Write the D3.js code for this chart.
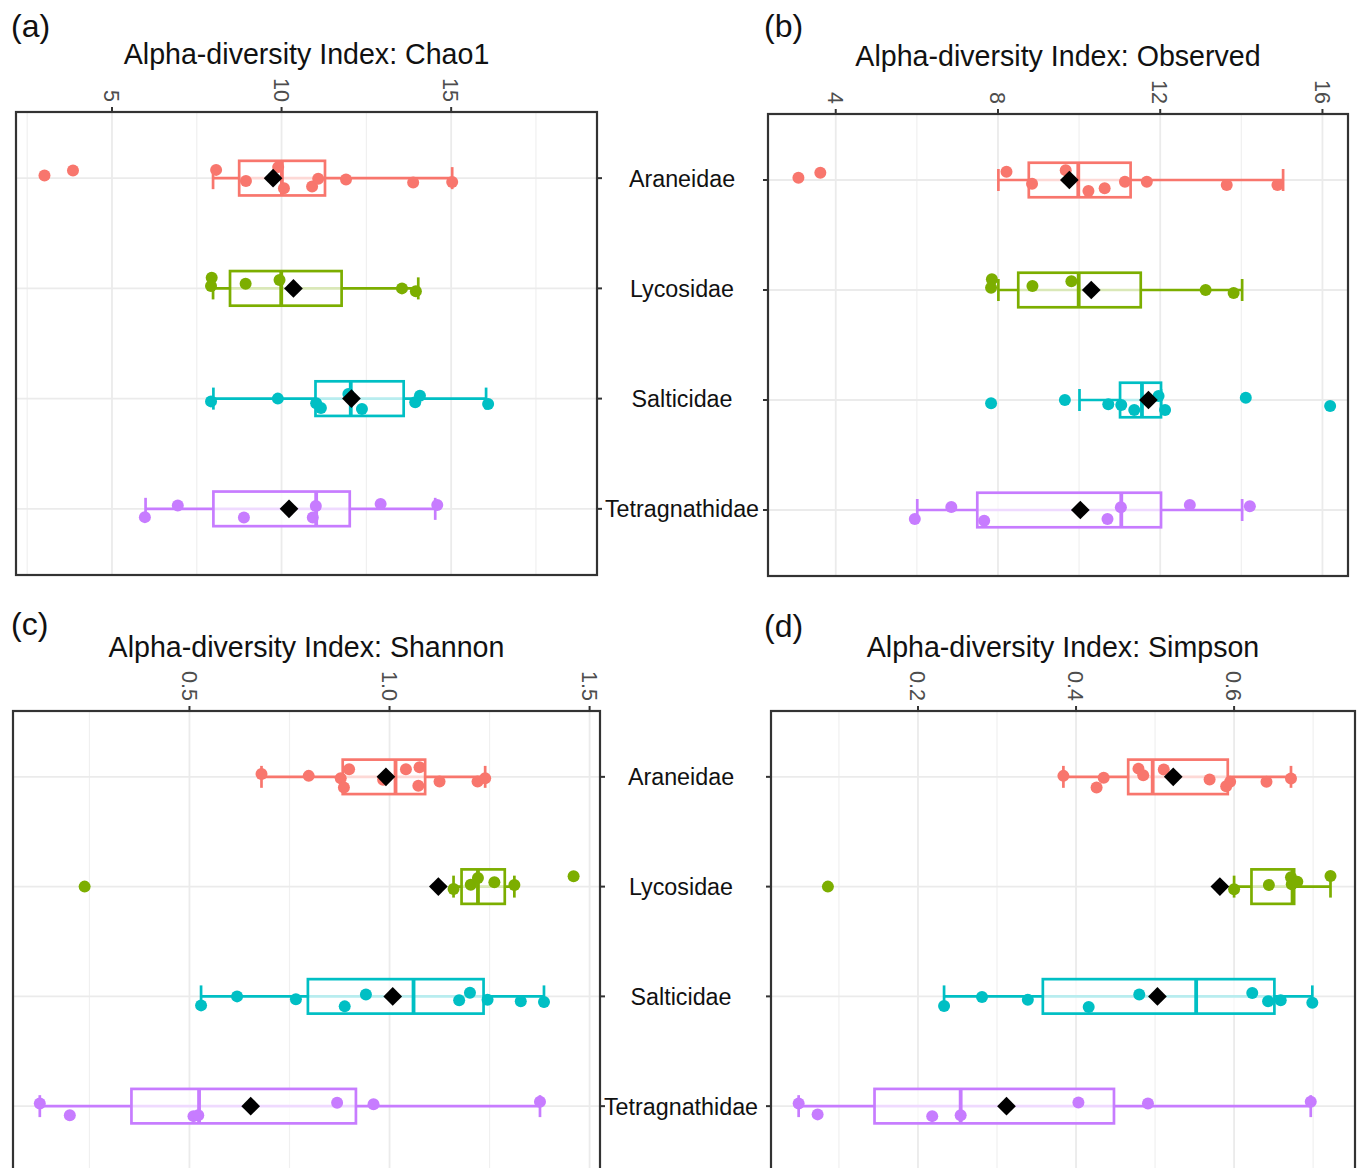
<!DOCTYPE html>
<html>
<head>
<meta charset="UTF-8">
<title>Alpha-diversity boxplots</title>
<script src="https://d3js.org/d3.v7.min.js"></script>
<style>
  body { margin: 0; background: #ffffff; }
  text { font-family: "Liberation Sans", Arial, sans-serif; }
</style>
</head>
<body>
<div id="chart"></div>
<script>
// ---- data ----
var families = ["Araneidae", "Lycosidae", "Salticidae", "Tetragnathidae"];

// box stats per family: [whisker low, Q1, median, Q3, whisker high, mean]
var chao1Values = [
  [3.01, 3.85, 8.07, 8.95, 9.90, 10.07, 10.90, 11.08, 11.90, 13.88, 15.03],
  [7.94, 7.92, 8.94, 9.94, 13.55, 13.96],
  [7.92, 9.89, 11.02, 11.16, 11.97, 12.37, 13.94, 14.08, 16.09],
  [5.97, 6.94, 8.89, 10.92, 11.01, 12.92, 14.59]
];
var chao1Jitter = [
  [-0.025, -0.07, -0.075, 0.025, -0.1, 0.091, 0.075, 0.006, 0.012, 0.039, 0.036],
  [-0.097, -0.021, -0.043, -0.075, 0, 0.025],
  [0.025, 0, 0.043, 0.085, -0.043, 0.094, 0.034, -0.027, 0.048],
  [0.075, -0.03, 0.079, 0.079, -0.025, -0.045, -0.034]
];
var chao1Box = [
  [7.98, 8.75, 10.01, 11.28, 15.03, 9.75],
  [7.98, 8.48, 9.99, 11.77, 14.03, 10.35],
  [7.99, 11.0, 12.04, 13.6, 16.03, 12.06],
  [5.99, 7.99, 11.02, 12.01, 14.53, 10.22]
];
var chao1Ticks = [5, 10, 15];
var chao1Domain = [2.17, 19.3];

var observedValues = [
  [3.08, 3.62, 8.21, 8.84, 9.67, 10.23, 10.63, 11.13, 11.67, 13.64, 14.89],
  [7.85, 7.83, 8.85, 9.81, 13.12, 13.81],
  [7.83, 9.65, 10.72, 11.04, 11.36, 11.96, 12.12, 14.11, 16.19],
  [5.95, 6.85, 7.66, 10.7, 11.03, 12.73, 14.21]
];
var observedJitter = [
  [-0.021, -0.066, -0.075, 0.034, -0.088, 0.1, 0.075, 0.015, 0.015, 0.045, 0.045],
  [-0.097, -0.021, -0.036, -0.079, 0, 0.027],
  [0.03, 0, 0.039, 0.045, 0.091, -0.036, 0.091, -0.021, 0.055],
  [0.082, -0.027, 0.097, 0.082, -0.025, -0.045, -0.034]
];
var observedBox = [
  [8.01, 8.76, 9.98, 11.27, 15.03, 9.76],
  [8.01, 8.5, 9.99, 11.52, 14.02, 10.3],
  [10.01, 11.01, 11.55, 12.02, 12.02, 11.71],
  [6.01, 7.49, 11.04, 12.02, 14.02, 10.03]
];
var observedTicks = [4, 8, 12, 16];
var observedDomain = [2.33, 16.63];

var shannonValues = [
  [0.68, 0.798, 0.878, 0.886, 0.899, 0.984, 1.041, 1.075, 1.072, 1.125, 1.22, 1.239],
  [0.238, 1.16, 1.203, 1.221, 1.262, 1.312, 1.46],
  [0.529, 0.619, 0.766, 0.888, 0.941, 1.174, 1.201, 1.245, 1.328, 1.386],
  [0.126, 0.201, 0.51, 0.522, 0.869, 0.96, 1.376]
];
var shannonJitter = [
  [-0.025, -0.009, 0.012, 0.097, -0.07, 0.027, -0.07, -0.088, 0.082, 0.043, 0.043, 0.012],
  [0, 0.021, -0.018, -0.079, -0.039, -0.015, -0.094],
  [0.082, 0, 0.027, 0.091, -0.018, 0.036, -0.034, 0.03, 0.045, 0.052],
  [-0.025, 0.082, 0.091, 0.082, -0.03, -0.018, -0.039]
];
var shannonBox = [
  [0.68, 0.883, 1.015, 1.089, 1.239, 0.991],
  [1.16, 1.18, 1.221, 1.288, 1.312, 1.122],
  [0.529, 0.796, 1.06, 1.235, 1.386, 1.008],
  [0.126, 0.355, 0.524, 0.916, 1.376, 0.653]
];
var shannonTicks = [0.5, 1.0, 1.5];
var shannonDomain = [0.059, 1.526];

var simpsonValues = [
  [0.384, 0.435, 0.426, 0.479, 0.485, 0.511, 0.569, 0.59, 0.595, 0.641, 0.672],
  [0.086, 0.6, 0.644, 0.672, 0.673, 0.68, 0.722],
  [0.233, 0.281, 0.339, 0.416, 0.48, 0.623, 0.643, 0.659, 0.699],
  [0.049, 0.073, 0.218, 0.254, 0.403, 0.491, 0.697]
];
var simpsonJitter = [
  [-0.009, 0.009, 0.097, -0.075, -0.015, -0.066, 0.025, 0.085, 0.045, 0.045, 0.015],
  [0, 0.025, -0.015, -0.085, -0.021, -0.045, -0.097],
  [0.088, 0.006, 0.03, 0.097, -0.018, -0.03, 0.045, 0.036, 0.057],
  [-0.025, 0.075, 0.091, 0.082, -0.034, -0.025, -0.039]
];
var simpsonBox = [
  [0.384, 0.466, 0.497, 0.592, 0.672, 0.523],
  [0.6, 0.622, 0.674, 0.676, 0.722, 0.582],
  [0.233, 0.358, 0.552, 0.651, 0.699, 0.503],
  [0.049, 0.145, 0.254, 0.448, 0.697, 0.312]
];
var simpsonTicks = [0.2, 0.4, 0.6];
var simpsonDomain = [0.014, 0.753];

// ---- layout ----
var width = 1357, height = 1168;
var colors = d3.scaleOrdinal().domain(families)
    .range(["#F8766D", "#7CAE00", "#00BFC4", "#C77CFF"]);

var panels = [
  { letter: "(a)", title: "Alpha-diversity Index: Chao1", values: chao1Values, jitter: chao1Jitter,
    box: chao1Box, ticks: chao1Ticks, domain: chao1Domain, fmt: d3.format("d"),
    x0: 16, x1: 597, y0: 112, y1: 575, side: "right", labels: 682, letterX: 11, letterY: 37, titleY: 64 },
  { letter: "(b)", title: "Alpha-diversity Index: Observed", values: observedValues, jitter: observedJitter,
    box: observedBox, ticks: observedTicks, domain: observedDomain, fmt: d3.format("d"),
    x0: 768, x1: 1348, y0: 114, y1: 576, side: "left", labels: null, letterX: 764, letterY: 37, titleY: 66 },
  { letter: "(c)", title: "Alpha-diversity Index: Shannon", values: shannonValues, jitter: shannonJitter,
    box: shannonBox, ticks: shannonTicks, domain: shannonDomain, fmt: d3.format(".1f"),
    x0: 13, x1: 600, y0: 711, y1: 1172, side: "right", labels: 681, letterX: 11, letterY: 635, titleY: 657 },
  { letter: "(d)", title: "Alpha-diversity Index: Simpson", values: simpsonValues, jitter: simpsonJitter,
    box: simpsonBox, ticks: simpsonTicks, domain: simpsonDomain, fmt: d3.format(".1f"),
    x0: 771, x1: 1355, y0: 711, y1: 1172, side: "left", labels: null, letterX: 764, letterY: 637, titleY: 657 }
];

var svg = d3.select("#chart").append("svg")
    .attr("width", width)
    .attr("height", height)
    .style("background", "#fff");

panels.forEach(function(p) {
  var x = d3.scaleLinear().domain(p.domain).range([p.x0, p.x1]);
  var y = d3.scalePoint().domain(families).range([p.y0, p.y1]).padding(0.6);
  var step = y.step();
  var g = svg.append("g");

  // minor grid halfway between the major ticks
  var tstep = p.ticks[1] - p.ticks[0];
  var minor = [p.ticks[0] - tstep / 2].concat(p.ticks.map(function(t) { return t + tstep / 2; }))
      .filter(function(v) { return v > p.domain[0] && v < p.domain[1]; });

  g.selectAll(".minor").data(minor).enter().append("line")
      .attr("x1", function(d) { return x(d); }).attr("x2", function(d) { return x(d); })
      .attr("y1", p.y0).attr("y2", p.y1)
      .attr("stroke", "#f0f0f0").attr("stroke-width", 1.2);
  g.selectAll(".major").data(p.ticks).enter().append("line")
      .attr("x1", function(d) { return x(d); }).attr("x2", function(d) { return x(d); })
      .attr("y1", p.y0).attr("y2", p.y1)
      .attr("stroke", "#ebebeb").attr("stroke-width", 1.8);
  g.selectAll(".hgrid").data(families).enter().append("line")
      .attr("x1", p.x0).attr("x2", p.x1)
      .attr("y1", function(d) { return y(d); }).attr("y2", function(d) { return y(d); })
      .attr("stroke", "#ebebeb").attr("stroke-width", 1.8);

  families.forEach(function(f, i) {
    var b = p.box[i], cy = y(f), c = colors(f);
    var bh = step * 0.157, ch = step * 0.1;
    // whisker line underneath the box
    g.append("line")
        .attr("x1", x(b[0])).attr("x2", x(b[4]))
        .attr("y1", cy).attr("y2", cy)
        .attr("stroke", c).attr("stroke-width", 2.7);
    // caps
    [b[0], b[4]].forEach(function(v) {
      g.append("line")
          .attr("x1", x(v)).attr("x2", x(v))
          .attr("y1", cy - ch).attr("y2", cy + ch)
          .attr("stroke", c).attr("stroke-width", 2.7);
    });
    g.append("rect")
        .attr("x", x(b[1])).attr("y", cy - bh)
        .attr("width", x(b[3]) - x(b[1])).attr("height", bh * 2)
        .attr("fill", "#fff").attr("fill-opacity", 0.72)
        .attr("stroke", c).attr("stroke-width", 2.7);
    g.append("line")
        .attr("x1", x(b[2])).attr("x2", x(b[2]))
        .attr("y1", cy - bh).attr("y2", cy + bh)
        .attr("stroke", c).attr("stroke-width", 3.8);

    g.selectAll(".pt" + i).data(p.values[i]).enter().append("circle")
        .attr("cx", function(d) { return x(d); })
        .attr("cy", function(d, j) { return cy + p.jitter[i][j] * step; })
        .attr("r", 6)
        .attr("fill", c);

    g.append("path")
        .attr("d", d3.symbol().type(d3.symbolSquare).size(175)())
        .attr("transform", "translate(" + x(b[5]) + "," + cy + ") rotate(45)")
        .attr("fill", "#000");
  });

  // panel border
  g.append("rect")
      .attr("x", p.x0).attr("y", p.y0)
      .attr("width", p.x1 - p.x0).attr("height", p.y1 - p.y0)
      .attr("fill", "none").attr("stroke", "#333333").attr("stroke-width", 2.2);

  // top value axis
  g.selectAll(".tick").data(p.ticks).enter().append("line")
      .attr("x1", function(d) { return x(d); }).attr("x2", function(d) { return x(d); })
      .attr("y1", p.y0 - 5).attr("y2", p.y0)
      .attr("stroke", "#333333").attr("stroke-width", 2);
  g.selectAll(".tlab").data(p.ticks).enter().append("text")
      .attr("transform", function(d) { return "translate(" + x(d) + "," + (p.y0 - 10) + ") rotate(90)"; })
      .attr("text-anchor", "end")
      .attr("dy", "0.36em")
      .attr("font-size", 21.5)
      .attr("fill", "#4d4d4d")
      .text(function(d) { return p.fmt(d); });

  // category ticks
  var dir = p.side === "right" ? 1 : -1;
  var xe = p.side === "right" ? p.x1 : p.x0;
  g.selectAll(".ctick").data(families).enter().append("line")
      .attr("x1", xe).attr("x2", xe + dir * 5)
      .attr("y1", function(d) { return y(d); }).attr("y2", function(d) { return y(d); })
      .attr("stroke", "#333333").attr("stroke-width", 2);

  if (p.labels) {
    g.selectAll(".clab").data(families).enter().append("text")
        .attr("x", p.labels)
        .attr("y", function(d) { return y(d); })
        .attr("dy", "0.36em")
        .attr("text-anchor", "middle")
        .attr("font-size", 23.3)
        .attr("fill", "#111")
        .text(function(d) { return d; });
  }

  svg.append("text")
      .attr("x", (p.x0 + p.x1) / 2).attr("y", p.titleY)
      .attr("text-anchor", "middle")
      .attr("font-size", 28.6)
      .attr("fill", "#111")
      .text(p.title);
  svg.append("text")
      .attr("x", p.letterX).attr("y", p.letterY)
      .attr("font-size", 32)
      .attr("fill", "#111")
      .text(p.letter);
});
</script>
</body>
</html>
